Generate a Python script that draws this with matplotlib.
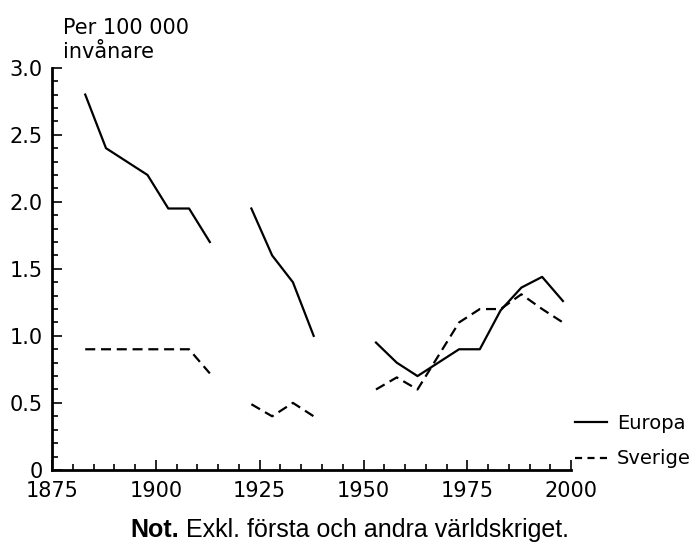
import numpy as np
import matplotlib.pyplot as plt
from matplotlib.lines import Line2D
from matplotlib.ticker import MultipleLocator

# data per period (war years excluded)
europa_years = [[1883, 1888, 1893, 1898, 1903, 1908, 1913],
                [1923, 1928, 1933, 1938],
                [1953, 1958, 1963, 1968, 1973, 1978, 1983, 1988, 1993, 1998]]
europa_vals = [[2.80, 2.40, 2.30, 2.20, 1.95, 1.95, 1.70],
               [1.95, 1.60, 1.40, 1.00],
               [0.95, 0.80, 0.70, 0.80, 0.90, 0.90, 1.19, 1.36, 1.44, 1.26]]

sverige_years = [[1883, 1888, 1893, 1898, 1903, 1908, 1913],
                 [1923, 1928, 1933, 1938],
                 [1953, 1958, 1963, 1968, 1973, 1978, 1983, 1988, 1993, 1998]]
sverige_vals = [[0.90, 0.90, 0.90, 0.90, 0.90, 0.90, 0.72],
                [0.49, 0.40, 0.50, 0.40],
                [0.60, 0.69, 0.60, 0.85, 1.10, 1.20, 1.20, 1.31, 1.20, 1.10]]

x_ticks = [1875, 1900, 1925, 1950, 1975, 2000]
y_ticks = [0, 0.5, 1.0, 1.5, 2.0, 2.5, 3.0]
y_labels = ['0', '0.5', '1.0', '1.5', '2.0', '2.5', '3.0']

plt.rcParams['font.family'] = 'DejaVu Sans'
fig = plt.figure(figsize=(6.96, 5.42), dpi=100)
ax = fig.add_axes([0.0747, 0.133, 0.746, 0.742])

dash = (0, (4.5, 2.6))
for xs, ys in zip(europa_years, europa_vals):
    ax.plot(xs, ys, color='black', lw=1.6)
for xs, ys in zip(sverige_years, sverige_vals):
    ax.plot(xs, ys, color='black', lw=1.6, linestyle=dash)

ax.set_xlim(1875, 2000)
ax.set_ylim(0, 3.0)
ax.set_xticks(x_ticks)
ax.set_yticks(y_ticks)
ax.set_yticklabels(y_labels)
ax.xaxis.set_minor_locator(MultipleLocator(5))
ax.yaxis.set_minor_locator(MultipleLocator(0.1))
ax.tick_params(which='both', direction='in', width=1.2, labelsize=15)
ax.tick_params(which='major', length=7)
ax.tick_params(which='minor', length=4.3)
ax.tick_params(axis='x', which='both', pad=8)
ax.tick_params(axis='y', which='both', pad=6.5)
for s in ['top', 'right']:
    ax.spines[s].set_visible(False)
for s in ['left', 'bottom']:
    ax.spines[s].set_linewidth(2)

fig.text(0.09, 0.893, 'Per 100 000\ninvånare', fontsize=15, ha='left', va='baseline',
         linespacing=1.25)

handles = [Line2D([], [], color='black', lw=1.6),
           Line2D([], [], color='black', lw=1.6, linestyle=(0, (3.2, 2.4)))]
fig.legend(handles, ['Europa', 'Sverige'], loc='center left',
           bbox_to_anchor=(0.826, 0.186), frameon=False, fontsize=14,
           handlelength=1.65, handletextpad=0.5, labelspacing=0.85,
           borderaxespad=0, borderpad=0)

t1 = fig.text(0.187, 0.01, 'Not.', fontsize=18, fontweight='bold',
              family='Liberation Sans', ha='left', va='baseline')
ax.annotate(' Exkl. första och andra världskriget.', xy=(1, 0), xycoords=t1,
            va='bottom', ha='left', fontsize=18, family='Liberation Sans',
            annotation_clip=False)

fig.savefig('out.png', dpi=100)
